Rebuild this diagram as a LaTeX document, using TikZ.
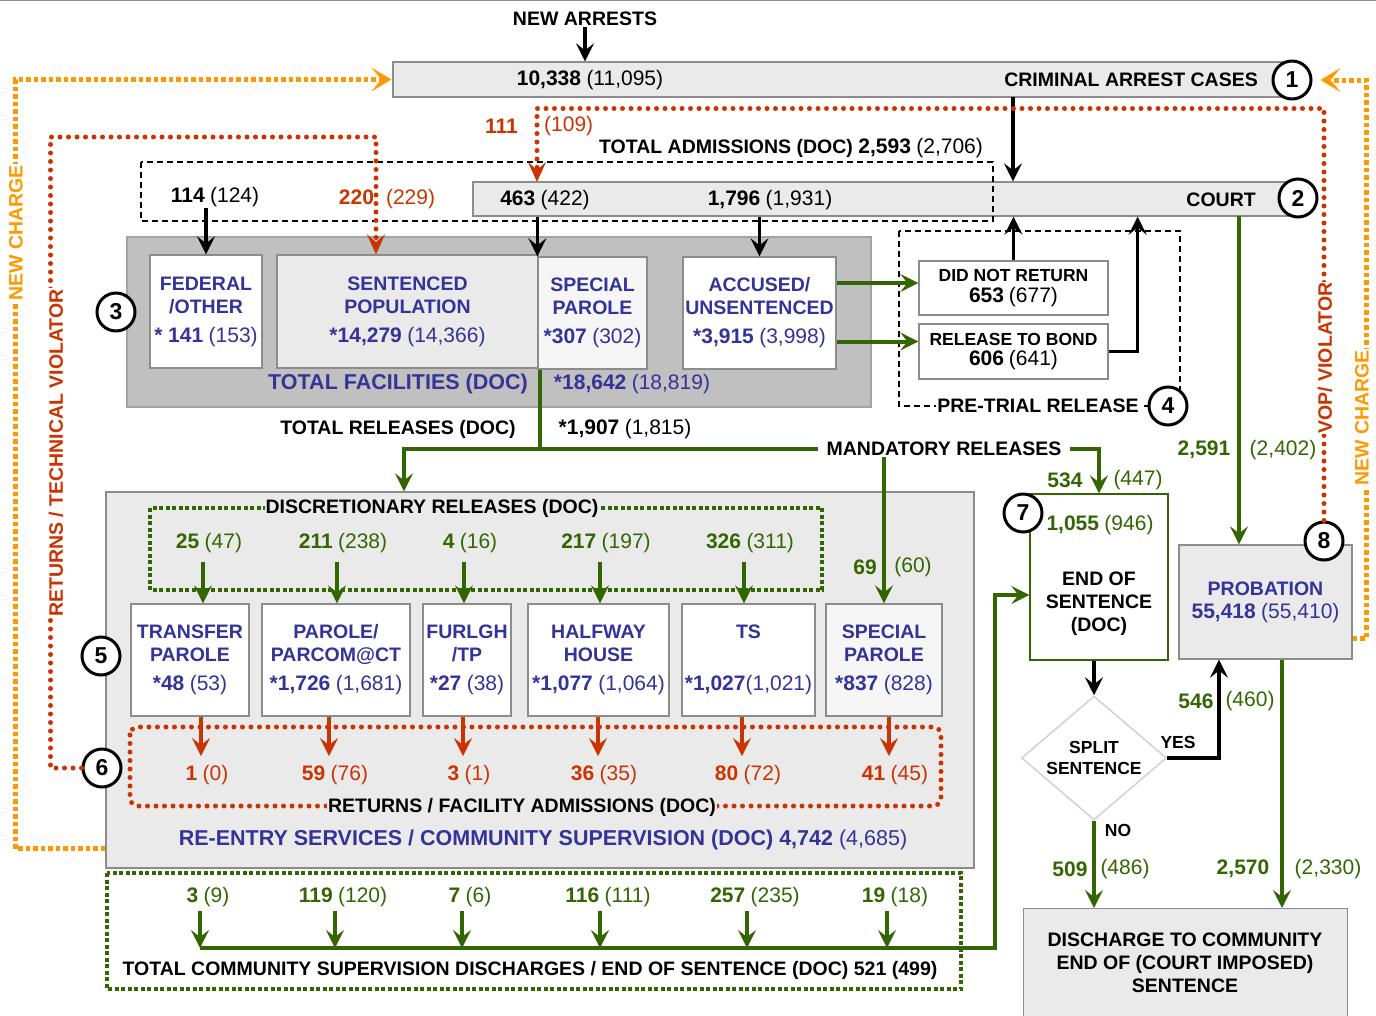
\documentclass[tikz,border=0pt]{standalone}
\usepackage{fontspec}
\setmainfont{Liberation Sans}
\usepackage{tikz}
\usetikzlibrary{arrows.meta}
\usetikzlibrary{positioning}
\usetikzlibrary{math}
\usetikzlibrary{shapes.geometric}

\definecolor{navytxt}{RGB}{51,51,153}
\definecolor{flowgreen}{RGB}{51,102,0}
\definecolor{flowred}{RGB}{204,51,0}
\definecolor{floworange}{RGB}{255,153,0}
\definecolor{lightfill}{RGB}{234,234,234}
\definecolor{palefill}{RGB}{246,246,246}
\definecolor{facfill}{RGB}{192,192,192}
\definecolor{rimgray}{RGB}{140,140,140}

\newcommand{\wordsize}{\fontsize{19.5}{23}\selectfont}
\newcommand{\numsize}{\fontsize{21}{24}\selectfont}
\newcommand{\smallsize}{\fontsize{17.5}{20.5}\selectfont}
\newcommand{\bnum}[1]{{\numsize\textbf{#1}}}
\newcommand{\pnum}[1]{{\numsize\textmd{(#1)}}}
\newcommand{\cnt}[2]{\bnum{#1} \pnum{#2}}

\tikzstyle{panel} = [draw=rimgray, line width=1.3pt, inner sep=0pt, align=center, font=\wordsize\bfseries]
\tikzstyle{lbl} = [inner sep=1pt, align=center, font=\wordsize\bfseries]
\tikzstyle{badge} = [circle, draw=black, line width=3pt, fill=white, minimum size=38pt, inner sep=0pt, font=\fontsize{23}{23}\selectfont\bfseries]
\tikzstyle{headtip} = [-{Stealth[length=18pt,width=18pt,inset=7pt]}]
\tikzstyle{opentip} = [-{Stealth[length=20pt,width=24pt,inset=10pt]}]
\tikzstyle{blkarrow} = [headtip, black, line width=3.5pt]
\tikzstyle{grnarrow} = [headtip, flowgreen, line width=4pt]
\tikzstyle{grnline} = [flowgreen, line width=4pt]
\tikzstyle{redarrow} = [headtip, flowred, line width=3.5pt]
\tikzstyle{reddots} = [flowred, line width=5pt, line cap=round, dash pattern=on 0pt off 8.5pt]
\tikzstyle{orgdots} = [floworange, line width=5pt, dash pattern=on 4.5pt off 3pt]
\tikzstyle{grndots} = [flowgreen, line width=4.5pt, dash pattern=on 4pt off 2.5pt]
\tikzstyle{blkdash} = [black, line width=1.8pt, dash pattern=on 6pt off 4pt]

\begin{document}
\begin{tikzpicture}[x=1pt, y=-1pt]

  \tikzmath{\xmax = 1376; \ymax = 1015;}
  \useasboundingbox (0,0) rectangle (\xmax,\ymax);
  \draw[rimgray, line width=1pt] (0,0.5) -- (\xmax,0.5);

  % arrests and court
  \node[lbl] (newarr) at (585,19) {NEW ARRESTS};
  \node[panel, fill=lightfill, minimum width=907pt, minimum height=35pt] (arrest) at (846.5,79.5) {};
  \node[lbl] (arrestnum) at (590,80) {\cnt{10,338}{11,095}};
  \node[lbl, anchor=east] (arresttxt) at (1259,80) {CRIMINAL ARREST CASES};
  \draw[blkarrow] (newarr.south) -- (newarr.south |- arrest.north);

  \node[panel, fill=lightfill, minimum width=827pt, minimum height=34pt] (court) at (886.5,199) {};
  \node[lbl] (adm463) at (545,200) {\cnt{463}{422}};
  \node[lbl] (adm1796) at (770,200) {\cnt{1,796}{1,931}};
  \node[lbl, anchor=east] (courttxt) at (1257,200) {COURT};
  \coordinate (a2c) at (1013,97);
  \draw[blkarrow] (a2c) -- (a2c |- court.north);

  % admissions
  \draw[blkdash] (141,162) rectangle (993,221);
  \node[lbl] (admtotal) at (791,148) {TOTAL ADMISSIONS (DOC) \cnt{2,593}{2,706}};
  \node[lbl] (adm114) at (215,197) {\cnt{114}{124}};
  \node[lbl, text=flowred] (adm220) at (387,199) {\bnum{220}\hspace{12pt}\pnum{229}};
  \node[lbl, text=flowred, anchor=east] (adm111) at (519,126) {\bnum{111}};
  \node[lbl, text=flowred, anchor=west] (adm109) at (543,126) {\pnum{109}};

  % facilities
  \node[panel, fill=facfill, draw=rimgray!80, minimum width=744pt, minimum height=170pt] (facil) at (499,322) {};
  \node[panel, fill=white, text=navytxt, minimum width=112pt, minimum height=113pt] (federal) at (206,311.5) {FEDERAL\\/OTHER\\[6pt]\cnt{* 141}{153}};
  \node[panel, fill=lightfill, text=navytxt, minimum width=261pt, minimum height=113pt] (sentenced) at (407.5,311.5) {SENTENCED\\POPULATION\\[6pt]\cnt{*14,279}{14,366}};
  \node[panel, fill=palefill, text=navytxt, minimum width=109pt, minimum height=112pt] (sppar) at (592.5,313) {SPECIAL\\PAROLE\\[6pt]\cnt{*307}{302}};
  \node[panel, fill=white, text=navytxt, minimum width=153pt, minimum height=112pt] (accused) at (759.5,313) {ACCUSED/\\UNSENTENCED\\[6pt]\cnt{*3,915}{3,998}};
  \node[lbl, text=navytxt, font=\fontsize{21.5}{24}\selectfont\bfseries] (factotal) at (398,384) {TOTAL FACILITIES (DOC)};
  \node[lbl, text=navytxt] (facnum) at (632,384) {\cnt{*18,642}{18,819}};

  \draw[blkarrow] (federal.north |- adm114.south) -- (federal.north);
  \draw[blkarrow] (court.south -| sppar.north west) -- (sppar.north west);
  \draw[blkarrow] (court.south -| accused.north) -- (accused.north);

  % pre-trial release
  \draw[blkdash] (899,231) rectangle (1180,406);
  \node[lbl, fill=white] (pretrial) at (1038,406) {PRE-TRIAL RELEASE};
  \node[panel, fill=white, font=\smallsize\bfseries, minimum width=189pt, minimum height=54pt] (noreturn) at (1013.5,288) {DID NOT RETURN\\\cnt{653}{677}};
  \node[panel, fill=white, font=\smallsize\bfseries, minimum width=189pt, minimum height=55pt] (bond) at (1013.5,351.5) {RELEASE TO BOND\\\cnt{606}{641}};
  \path ([yshift=5pt]noreturn.west) coordinate (nrin);
  \path ([yshift=10pt]bond.west) coordinate (bdin);
  \draw[grnarrow] (nrin -| accused.east) -- (nrin);
  \draw[grnarrow] (bdin -| accused.east) -- (bdin);
  \draw[blkarrow] (noreturn.north) -- (noreturn.north |- court.south);
  \draw[blkarrow] (bond.east) -- ++(29,0) coordinate (bk) -- (bk |- court.south);

  % re-entry services
  \node[panel, fill=lightfill, minimum width=868pt, minimum height=376pt] (reentry) at (540,680) {};
  \draw[grndots] (150,508) rectangle (822,590);
  \node[lbl, fill=lightfill] (disctl) at (432,508) {DISCRETIONARY RELEASES (DOC)};
  \node[lbl, text=flowgreen] (dr1) at (209,543) {\cnt{25}{47}};
  \node[lbl, text=flowgreen] (dr2) at (343,543) {\cnt{211}{238}};
  \node[lbl, text=flowgreen] (dr3) at (470,543) {\cnt{4}{16}};
  \node[lbl, text=flowgreen] (dr4) at (606,543) {\cnt{217}{197}};
  \node[lbl, text=flowgreen] (dr5) at (750,543) {\cnt{326}{311}};

  \node[panel, fill=white, text=navytxt, minimum width=118pt, minimum height=112pt] (transfer) at (190,660) {TRANSFER\\PAROLE\\[6pt]\cnt{*48}{53}};
  \node[panel, fill=white, text=navytxt, minimum width=148pt, minimum height=112pt] (parcom) at (336,660) {PAROLE/\\PARCOM@CT\\[6pt]\cnt{*1,726}{1,681}};
  \node[panel, fill=white, text=navytxt, minimum width=88pt, minimum height=112pt] (furlgh) at (467,660) {FURLGH\\/TP\\[6pt]\cnt{*27}{38}};
  \node[panel, fill=white, text=navytxt, minimum width=141pt, minimum height=112pt] (halfway) at (598.5,660) {HALFWAY\\HOUSE\\[6pt]\cnt{*1,077}{1,064}};
  \node[panel, fill=white, text=navytxt, minimum width=133pt, minimum height=112pt] (ts) at (748.5,660) {TS\\~\\[6pt]\bnum{*1,027}\pnum{1,021}};
  \node[panel, fill=palefill, text=navytxt, minimum width=116pt, minimum height=112pt] (sppar2) at (884,660) {SPECIAL\\PAROLE\\[6pt]\cnt{*837}{828}};

  \foreach \d/\b in {dr1/transfer, dr2/parcom, dr3/furlgh, dr4/halfway, dr5/ts}
    \draw[grnarrow] ([xshift=-6pt,yshift=-8pt]\d.south) -- ([xshift=-6pt]\d.south |- \b.north);

  \draw[reddots, rounded corners=8pt] (130,727) rectangle (941,806);
  \node[lbl, fill=lightfill] (rettl) at (522,807) {RETURNS / FACILITY ADMISSIONS (DOC)};
  \node[lbl, text=flowred] (rt1) at (207,775) {\cnt{1}{0}};
  \node[lbl, text=flowred] (rt2) at (335,775) {\cnt{59}{76}};
  \node[lbl, text=flowred] (rt3) at (469,775) {\cnt{3}{1}};
  \node[lbl, text=flowred] (rt4) at (604,775) {\cnt{36}{35}};
  \node[lbl, text=flowred] (rt5) at (748,775) {\cnt{80}{72}};
  \node[lbl, text=flowred] (rt6) at (895,775) {\cnt{41}{45}};
  \foreach \r/\b in {rt1/transfer, rt2/parcom, rt3/furlgh, rt4/halfway, rt5/ts, rt6/sppar2}
    \draw[redarrow] ([xshift=-6pt]\r.north |- \b.south) -- ([xshift=-6pt,yshift=8pt]\r.north);
  \node[lbl, text=navytxt, font=\fontsize{21.5}{24}\selectfont\bfseries] (reentrytl) at (543,840) {RE-ENTRY SERVICES / COMMUNITY SUPERVISION (DOC) 4,742 \textmd{(4,685)}};

  % releases
  \node[lbl] (reltotal) at (398,429) {TOTAL RELEASES (DOC)};
  \node[lbl] (relnum) at (625,429) {\cnt{*1,907}{1,815}};
  \node[lbl, fill=white, inner xsep=8pt] (mand) at (944,449) {MANDATORY RELEASES};
  \coordinate (relsplit) at (540,449);
  \coordinate (relleft) at (404,449);
  \draw[grnline] (sppar.south west -| relsplit) -- (relsplit) -- (mand.west);
  \draw[grnarrow] (relsplit) -- (relleft) -- (relleft |- reentry.north);
  \draw[grnarrow] (mand.south -| sppar2.north) -- (sppar2.north);
  \node[lbl, text=flowgreen] (m69) at (865,567) {\bnum{69}};
  \node[lbl, text=flowgreen] (m60) at (913,567) {\pnum{60}};

  % end of sentence, probation
  \node[panel, draw=flowgreen, fill=white, minimum width=138pt, minimum height=166pt] (eos) at (1099,577) {};
  \node[lbl, text=flowgreen] (eosnum) at (1100,525) {\cnt{1,055}{946}};
  \node[lbl] (eostxt) at (1099,604) {END OF\\SENTENCE\\(DOC)};
  \draw[grnarrow] (mand.east) -| (eos.north);
  \node[lbl, text=flowgreen] (m534) at (1065,480) {\bnum{534}};
  \node[lbl, text=flowgreen] (m447) at (1138,480) {\pnum{447}};

  \node[panel, fill=lightfill, text=navytxt, minimum width=173pt, minimum height=114pt] (probation) at (1265.5,602) {PROBATION\\\cnt{55,418}{55,410}};
  \coordinate (c2p) at (1239,216);
  \draw[grnarrow] (c2p) -- (c2p |- probation.north);
  \node[lbl, text=flowgreen] (p2591) at (1204,450) {\bnum{2,591}};
  \node[lbl, text=flowgreen] (p2402) at (1283,450) {\pnum{2,402}};

  \node[diamond, aspect=1.17, draw=black!18, line width=1.5pt, fill=white, minimum width=145pt, minimum height=124pt, inner sep=0pt, align=center, font=\smallsize\bfseries] (split) at (1094,758) {SPLIT\\SENTENCE};
  \node[panel, fill=lightfill, minimum width=324pt, minimum height=130pt, anchor=north west] (discharge) at (1023,908) {};
  \node[lbl] (dischtxt) at (1185,963) {DISCHARGE TO COMMUNITY\\END OF (COURT IMPOSED)\\SENTENCE};

  \draw[blkarrow] (eos.south -| split.north) -- (split.north);
  \draw[blkarrow] (split.east) -| ([xshift=-46.5pt]probation.south);
  \node[lbl, font=\smallsize\bfseries] (yes) at (1178,742) {YES};
  \node[lbl, text=flowgreen] (y546) at (1196,701) {\bnum{546}};
  \node[lbl, text=flowgreen] (y460) at (1250,701) {\pnum{460}};
  \draw[grnarrow] (split.south) -- (split.south |- discharge.north);
  \node[lbl, font=\smallsize\bfseries] (no) at (1118,830) {NO};
  \node[lbl, text=flowgreen] (n509) at (1070,869) {\bnum{509}};
  \node[lbl, text=flowgreen] (n486) at (1125,869) {\pnum{486}};
  \path ([xshift=16.5pt]probation.south) coordinate (pdown);
  \draw[grnarrow] (pdown) -- (pdown |- discharge.north);
  \node[lbl, text=flowgreen] (p2570) at (1243,869) {\bnum{2,570}};
  \node[lbl, text=flowgreen] (p2330) at (1328,869) {\pnum{2,330}};

  % community supervision discharges
  \draw[grndots] (107,873) rectangle (961,989);
  \node[lbl, text=flowgreen] (dc1) at (208,897) {\cnt{3}{9}};
  \node[lbl, text=flowgreen] (dc2) at (343,897) {\cnt{119}{120}};
  \node[lbl, text=flowgreen] (dc3) at (470,897) {\cnt{7}{6}};
  \node[lbl, text=flowgreen] (dc4) at (608,897) {\cnt{116}{111}};
  \node[lbl, text=flowgreen] (dc5) at (755,897) {\cnt{257}{235}};
  \node[lbl, text=flowgreen] (dc6) at (895,897) {\cnt{19}{18}};
  \coordinate (dline) at (200,948);
  \foreach \c in {dc1,dc2,dc3,dc4,dc5,dc6}
    \draw[grnarrow] ([xshift=-8pt,yshift=-3pt]\c.south) -- ([xshift=-8pt]\c.south |- dline);
  \draw[grnarrow] (dline) -- ++(795,0) |- ([yshift=-18pt]eos.west);
  \node[lbl] (dctl) at (530,970) {TOTAL COMMUNITY SUPERVISION DISCHARGES / END OF SENTENCE (DOC) 521 (499)};

  % new charge / violator loops
  \draw[orgdots, opentip, shorten >=1pt] ([yshift=20pt]reentry.south west) -- ++(-90,0) |- (arrest.west);
  \node[lbl, text=floworange, fill=white, rotate=90] (ncleft) at (16,233) {NEW CHARGE};
  \node[badge] (b1) at (1292,80) {1};
  \draw[orgdots, opentip, shorten >=8pt] ([yshift=-36pt]probation.east) -- ++(14,0) |- (b1.east);
  \node[lbl, text=floworange, fill=white, rotate=90] (ncright) at (1362,418) {NEW CHARGE};

  \node[badge] (b8) at (1324,541) {8};
  \coordinate (vopin) at (537,182);
  \draw[reddots, -{Stealth[length=20pt,width=18pt,inset=8pt]}] (b8.north) -- ++(0,-412) -| (vopin);
  \node[lbl, text=flowred, fill=white, rotate=90] (voplbl) at (1325,358) {VOP/ VIOLATOR};

  \node[badge] (b6) at (102,768) {6};
  \coordinate (rtvtop) at (376,137);
  \draw[reddots, -{Stealth[length=20pt,width=18pt,inset=8pt]}] (b6.west) -- ++(-31,0) |- (rtvtop) -- (rtvtop |- sentenced.north);
  \node[lbl, text=flowred, fill=white, rotate=90] (rtvlbl) at (56,453) {RETURNS / TECHNICAL VIOLATOR};

  % numbered badges
  \node[badge] (b2) at (1298,198) {2};
  \node[badge] (b3) at (116,312) {3};
  \node[badge] (b4) at (1168,406) {4};
  \node[badge] (b5) at (101,656) {5};
  \node[badge] (b7) at (1023,513) {7};

\end{tikzpicture}
\end{document}
